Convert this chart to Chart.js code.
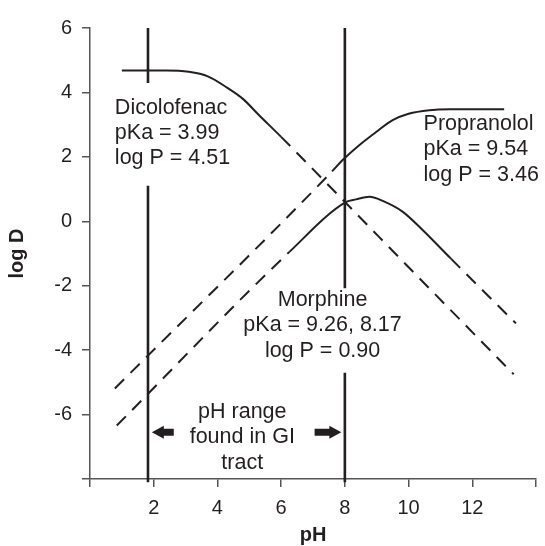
<!DOCTYPE html>
<html>
<head>
<meta charset="utf-8">
<title>log D vs pH</title>
<script src="https://cdn.jsdelivr.net/npm/chart.js@4.4.1/dist/chart.umd.min.js"></script>
<style>
  html, body { margin: 0; padding: 0; background: #fff; }
  #wrap { width: 545px; height: 546px; }
</style>
</head>
<body>
<div id="wrap"><canvas id="myChart" width="545" height="546"></canvas></div>
<script>
'use strict';

// pH / log D readings for each drug
let dicloPH = [1.0, 2.4, 3.1, 3.7, 4.3, 4.8, 5.3, 6.0, 8.0, 10.6, 13.3];
let dicloLogD = [4.68, 4.68, 4.64, 4.5, 4.15, 3.8, 3.3, 2.62, 0.6, -2.03, -4.75];

let propPH = [0.78, 7.6, 7.93, 8.46, 8.98, 9.5, 10.0, 10.65, 11.3, 13.0];
let propLogD = [-5.19, 1.55, 1.9, 2.37, 2.77, 3.14, 3.34, 3.45, 3.48, 3.48];

let morphPH = [0.84, 6.26, 8.04, 8.35, 8.77, 9.24, 9.81, 10.44, 11.33, 13.37];
let morphLogD = [-6.34, -0.95, 0.6, 0.68, 0.76, 0.61, 0.3, -0.27, -1.16, -3.17];

// part of each curve drawn solid, the rest is dashed
let dicloSolid = [1.0, 6.0];
let propSolid = [7.6, 13.0];
let morphSolid = [6.26, 11.33];

// pH range found in the GI tract
let giRange = [1.82, 8.0];

let xTicks = [0, 2, 4, 6, 8, 10, 12, 14];
let yTicks = [-8, -6, -4, -2, 0, 2, 4, 6];

let dicloText = ['Dicolofenac', 'pKa = 3.99', 'log P = 4.51'];
let propText = ['Propranolol', 'pKa = 9.54', 'log P = 3.46'];
let morphText = ['Morphine', 'pKa = 9.26, 8.17', 'log P = 0.90'];
let giText = ['pH range', 'found in GI', 'tract'];

let ink = '#231f20';
let axisGrey = '#555';
let fontName = '"Liberation Sans", Arial, Helvetica, sans-serif';

function toPoints(xs, ys) {
    let pts = [];
    for (let i = 0; i < xs.length; i++) {
        pts.push({ x: xs[i], y: ys[i] });
    }
    return pts;
}

function curve(label, xs, ys, solid) {
    return {
        label: label,
        data: toPoints(xs, ys),
        borderColor: ink,
        borderWidth: 2,
        pointRadius: 0,
        cubicInterpolationMode: 'monotone',
        segment: {
            borderDash: function (ctx) {
                let a = ctx.p0.parsed.x;
                let b = ctx.p1.parsed.x;
                if (a >= solid[0] - 1e-6 && b <= solid[1] + 1e-6) return undefined;
                return [13, 9];
            }
        }
    };
}

// vertical markers, broken where the labels sit
function marker(label, ph, gapTop, gapBottom) {
    return {
        label: label,
        data: [
            { x: ph, y: 6 }, { x: ph, y: gapTop },
            { x: ph, y: null },
            { x: ph, y: gapBottom }, { x: ph, y: -8.1 }
        ],
        borderColor: ink,
        borderWidth: 2.6,
        pointRadius: 0,
        spanGaps: false,
        clip: false
    };
}

function drawLines(ctx, lines, x, y, align) {
    ctx.textAlign = align;
    for (let i = 0; i < lines.length; i++) {
        ctx.fillText(lines[i], x, y + i * 25.3);
    }
}

function arrow(ctx, tipX, tailX, y) {
    let dir = tailX < tipX ? 1 : -1;
    let head = 12;
    ctx.beginPath();
    ctx.moveTo(tipX, y);
    ctx.lineTo(tipX - dir * head, y - 6.5);
    ctx.lineTo(tipX - dir * head, y - 3.5);
    ctx.lineTo(tailX, y - 3.5);
    ctx.lineTo(tailX, y + 3.5);
    ctx.lineTo(tipX - dir * head, y + 3.5);
    ctx.lineTo(tipX - dir * head, y + 6.5);
    ctx.closePath();
    ctx.fill();
}

let notes = {
    id: 'notes',
    afterDatasetsDraw(chart) {
        let ctx = chart.ctx;
        let xs = chart.scales.x;
        let ys = chart.scales.y;
        ctx.save();
        ctx.fillStyle = ink;
        ctx.font = '21.5px ' + fontName;
        ctx.textBaseline = 'middle';

        drawLines(ctx, dicloText, xs.getPixelForValue(0.78), ys.getPixelForValue(3.52), 'left');
        drawLines(ctx, propText, xs.getPixelForValue(10.47), ys.getPixelForValue(3.02), 'left');
        drawLines(ctx, morphText, xs.getPixelForValue(7.3), ys.getPixelForValue(-2.45), 'center');
        drawLines(ctx, giText, xs.getPixelForValue(4.78), ys.getPixelForValue(-5.92), 'center');

        let ay = ys.getPixelForValue(-6.55);
        arrow(ctx, xs.getPixelForValue(1.94), xs.getPixelForValue(2.63), ay);
        arrow(ctx, xs.getPixelForValue(7.89), xs.getPixelForValue(7.05), ay);
        ctx.restore();
    }
};

let ctx = document.getElementById('myChart').getContext('2d');
let myChart = new Chart(ctx, {
    type: 'line',
    data: {
        datasets: [
            curve('Dicolofenac', dicloPH, dicloLogD, dicloSolid),
            curve('Propranolol', propPH, propLogD, propSolid),
            curve('Morphine', morphPH, morphLogD, morphSolid),
            marker('GI low', giRange[0], 4.29, 1.1),
            marker('GI high', giRange[1], -2.08, -4.7)
        ]
    },
    options: {
        responsive: false,
        animation: false,
        events: [],
        layout: { padding: { top: 28, right: 8, left: 0, bottom: 0 } },
        plugins: {
            legend: { display: false },
            tooltip: { enabled: false }
        },
        scales: {
            x: {
                type: 'linear',
                min: 0,
                max: 14,
                afterFit: function (scale) { scale.height = 67; },
                afterBuildTicks: function (scale) {
                    scale.ticks = xTicks.map(v => ({ value: v }));
                },
                ticks: {
                    color: ink,
                    font: { family: fontName, size: 20 },
                    padding: 9,
                    maxRotation: 0,
                    callback: v => (v === 0 || v === 14) ? '' : String(v)
                },
                grid: { drawOnChartArea: false, tickLength: 8, color: axisGrey, lineWidth: 1.5 },
                border: { color: axisGrey, width: 1.5 },
                title: {
                    display: true,
                    text: 'pH',
                    color: ink,
                    font: { family: fontName, size: 20, weight: 'bold' },
                    padding: { top: 0, bottom: -1 }
                }
            },
            y: {
                type: 'linear',
                min: -8,
                max: 6,
                afterFit: function (scale) { scale.width = 90; },
                afterBuildTicks: function (scale) {
                    scale.ticks = yTicks.map(v => ({ value: v }));
                },
                ticks: {
                    color: ink,
                    font: { family: fontName, size: 20 },
                    padding: 10,
                    callback: v => v === -8 ? '' : String(v)
                },
                grid: { drawOnChartArea: false, tickLength: 8, color: axisGrey, lineWidth: 1.5 },
                border: { color: axisGrey, width: 1.5 },
                title: {
                    display: true,
                    text: 'log D',
                    color: ink,
                    font: { family: fontName, size: 20, weight: 'bold' },
                    padding: { top: 5, bottom: 0 }
                }
            }
        }
    },
    plugins: [notes]
});
</script>
</body>
</html>
